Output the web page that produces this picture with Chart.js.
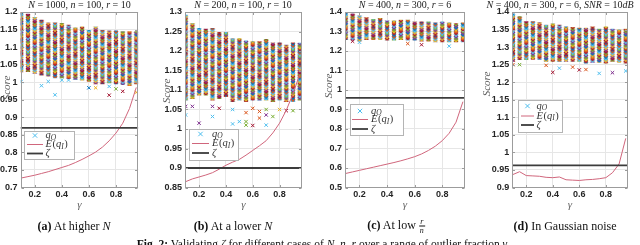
<!DOCTYPE html>
<html><head><meta charset="utf-8">
<script src="https://cdn.jsdelivr.net/npm/chart.js@4.4.1/dist/chart.umd.min.js"></script>
<style>
html,body{margin:0;padding:0;background:#fff;}
#wrap{position:relative;width:640px;height:245px;overflow:hidden;background:#fff;}
canvas{position:absolute;left:0;top:0;width:640px;height:245px;}
.t{position:absolute;white-space:nowrap;font-family:"Liberation Serif","Times New Roman",serif;color:#222;transform:translate(-50%,-50%);line-height:1;}
.ttl{font-size:10px;color:#222;}
.ylab{font-size:11px;color:#5a5a5a;transform:translate(-50%,-50%) rotate(-90deg);}
.xl{font-size:11px;color:#666;}
.cap{font-size:12px;color:#111;}
.frac{display:inline-block;vertical-align:middle;font-size:8px;text-align:center;line-height:1;}
.frac span{display:block;padding:0 1px;}
.frac span+span{border-top:0.8px solid #111;}
</style></head>
<body><div id="wrap">
<canvas id="ca" width="640" height="245"></canvas>
<canvas id="cb" width="640" height="245"></canvas>
<canvas id="cc" width="640" height="245"></canvas>
<canvas id="cd" width="640" height="245"></canvas>

<div class="t ttl" style="left:79.5px;top:5px"><i>N</i> = 1000, <i>n</i> = 100, <i>r</i> = 10</div>
<div class="t ttl" style="left:243px;top:5px"><i>N</i> = 200, <i>n</i> = 100, <i>r</i> = 10</div>
<div class="t ttl" style="left:405px;top:5px"><i>N</i> = 400, <i>n</i> = 300, <i>r</i> = 6</div>
<div class="t ttl" style="left:560px;top:5px"><i>N</i> = 400, <i>n</i> = 300, <i>r</i> = 6, <i>SNR</i> = 10<i>dB</i></div>

<div class="t ylab" style="left:5.5px;top:88px"><i>Score</i></div>
<div class="t ylab" style="left:166px;top:91px"><i>Score</i></div>
<div class="t ylab" style="left:328px;top:86px"><i>Score</i></div>
<div class="t ylab" style="left:486px;top:84px"><i>Score</i></div>

<div class="t xl" style="left:79.5px;top:204px"><i>γ</i></div>
<div class="t xl" style="left:243.5px;top:204px"><i>γ</i></div>
<div class="t xl" style="left:405px;top:204px"><i>γ</i></div>
<div class="t xl" style="left:570px;top:204px"><i>γ</i></div>

<div class="t cap" style="left:74px;top:226px"><b>(a)</b> At higher <i>N</i></div>
<div class="t cap" style="left:233px;top:226px"><b>(b)</b> At a lower <i>N</i></div>
<div class="t cap" style="left:396px;top:226px"><b>(c)</b> At low <span class="frac"><span><i>r</i></span><span><i>n</i></span></span></div>
<div class="t cap" style="left:565px;top:226px"><b>(d)</b> In Gaussian noise</div>
<div class="t cap" style="left:322px;top:244.5px;font-size:11.5px"><b>Fig. 2:</b> Validating <i>ζ</i> for different cases of <i>N</i>, <i>n</i>, <i>r</i> over a range of outlier fraction <i>γ</i></div>
</div>
<script>
// ---------------- DATA ----------------
const GAMMA = [0.10,0.15,0.20,0.25,0.30,0.35,0.40,0.45,0.50,0.55,0.60,0.65,0.70,0.75,0.80,0.85,0.90,0.95];
const X_TICKS = [0.2,0.4,0.6,0.8];
const X_MIN = 0.095, X_MAX = 0.965;

// (a) N=1000, n=100, r=10
const A_Y_TICKS = [0.7,0.75,0.8,0.85,0.9,0.95,1,1.05,1.1,1.15,1.2];
const A_BAND_TOP = [1.200,1.194,1.185,1.177,1.169,1.169,1.168,1.163,1.155,1.158,1.148,1.158,1.148,1.146,1.146,1.144,1.144,1.144];
const A_BAND_BOT = [1.029,1.030,1.025,1.020,1.017,1.012,1.012,1.010,1.008,1.006,1.002,0.995,0.995,0.998,0.995,0.993,0.990,0.995];
const A_OUT_G = [0.10,0.25,0.30,0.35,0.40,0.45,0.60,0.65,0.75,0.75,0.80,0.85,0.95];
const A_OUT_V = [1.002,0.990,1.002,0.964,1.006,1.006,0.984,0.984,0.988,0.963,0.981,0.974,0.971];
const A_EQI = [0.727,0.731,0.735,0.740,0.745,0.751,0.757,0.763,0.771,0.780,0.790,0.801,0.815,0.833,0.855,0.883,0.925,0.985];
const A_ZETA = 0.87;

// (b) N=200, n=100, r=10
const B_Y_TICKS = [0.85,0.9,0.95,1,1.05,1.1,1.15,1.2,1.25,1.3];
const B_BAND_TOP = [1.292,1.271,1.258,1.256,1.258,1.248,1.248,1.232,1.232,1.226,1.224,1.224,1.230,1.221,1.221,1.215,1.221,1.220];
const B_BAND_BOT = [1.074,1.078,1.087,1.087,1.074,1.078,1.083,1.070,1.074,1.070,1.074,1.074,1.074,1.070,1.074,1.070,1.070,1.074];
const B_OUT_G = [0.10,0.10,0.15,0.20,0.30,0.30,0.35,0.45,0.45,0.50,0.55,0.55,0.55,0.60,0.60,0.65,0.65,0.70,0.70,0.70,0.75,0.80,0.85,0.90];
const B_OUT_V = [1.036,1.058,1.058,1.015,1.032,1.058,1.053,1.050,1.013,1.019,1.042,1.019,1.010,1.009,1.053,1.045,1.028,1.036,1.010,1.050,1.032,1.050,1.047,1.047];
const B_EQI = [0.865,0.872,0.877,0.882,0.888,0.897,0.907,0.915,0.922,0.933,0.945,0.957,0.970,0.990,1.015,1.048,1.090,1.140];
const B_ZETA = 0.9;

// (c) N=400, n=300, r=6
const C_Y_TICKS = [0.5,0.6,0.7,0.8,0.9,1,1.1,1.2,1.3,1.4];
const C_BAND_TOP = [1.400,1.390,1.380,1.372,1.362,1.367,1.355,1.355,1.358,1.358,1.350,1.350,1.350,1.345,1.350,1.345,1.341,1.345];
const C_BAND_BOT = [1.258,1.255,1.251,1.258,1.258,1.258,1.255,1.255,1.258,1.255,1.255,1.251,1.251,1.246,1.246,1.246,1.246,1.246];
const C_OUT_G = [0.15,0.20,0.55,0.65,0.85];
const C_OUT_V = [1.250,1.245,1.238,1.232,1.225];
const C_EQI = [0.572,0.580,0.588,0.596,0.604,0.612,0.620,0.628,0.637,0.647,0.658,0.672,0.690,0.712,0.740,0.778,0.835,0.940];
const C_ZETA = 0.96;

// (d) N=400, n=300, r=6, SNR=10dB
const D_Y_TICKS = [0.9,0.95,1,1.05,1.1,1.15,1.2,1.25,1.3,1.35,1.4];
const D_BAND_TOP = [1.395,1.387,1.373,1.373,1.370,1.363,1.366,1.363,1.358,1.356,1.354,1.354,1.358,1.351,1.358,1.351,1.349,1.351];
const D_BAND_BOT = [1.259,1.264,1.264,1.265,1.264,1.259,1.259,1.259,1.259,1.259,1.259,1.254,1.256,1.256,1.254,1.259,1.256,1.254];
const D_OUT_G = [0.10,0.15,0.35,0.40,0.45,0.55,0.60,0.65,0.75,0.85,0.95];
const D_OUT_V = [1.250,1.250,1.248,1.228,1.240,1.243,1.235,1.236,1.225,1.227,1.232];
const D_EQI = [0.937,0.945,0.934,0.933,0.932,0.929,0.928,0.930,0.922,0.921,0.920,0.922,0.923,0.925,0.928,0.942,0.967,1.040];
const D_ZETA = 0.963;

// ---------------- STYLE ----------------
const PAL = {b:'#0072BD',o:'#D95319',y:'#EDB120',p:'#7E2F8E',g:'#77AC30',l:'#4DBEEE',r:'#A2142F'};
const A_OUT_COL = ['l','l','l','l','l','l','b','y','l','r','g','r','y'];
const B_OUT_COL = ['l','p','p','p','l','p','r','l','l','l','o','g','g','r','o','o','o','p','l','g','g','y','r','g'];
const C_OUT_COL = ['r','l','o','r','l'];
const D_OUT_COL = ['o','g','o','r','l','o','r','o','l','p','l'];
const EQI_COLOR = '#d0667c';
const ZETA_COLOR = '#3c3c3c';
const TICK_FONT = {family:'"Liberation Sans", Arial, sans-serif', size:9, weight:'bold'};

let tileCanvas = null;
function getTile(){
  if (tileCanvas) return tileCanvas;
  const seq = 'bolyprgoblyrgpbyorlpgyrbolgpyr'.split('');
  const step = 1.8;
  const t = document.createElement('canvas');
  t.width = 6; t.height = Math.round(step * seq.length);
  const c = t.getContext('2d');
  c.lineWidth = 1.1;
  for (let k = 0; k < seq.length; k++){
    const y = k * step;
    c.strokeStyle = PAL[seq[k]];
    for (const dy of [-t.height, 0, t.height]){
      c.beginPath();
      c.moveTo(1, y+dy-2); c.lineTo(5, y+dy+2);
      c.moveTo(1, y+dy+2); c.lineTo(5, y+dy-2);
      c.stroke();
    }
  }
  tileCanvas = t;
  return t;
}
function bandFill(ctx){
  if (ctx.type !== 'data' || !ctx.chart.scales.x) return '#888';
  const cx = ctx.chart.scales.x.getPixelForValue(ctx.raw.x);
  const p = ctx.chart.ctx.createPattern(getTile(), 'repeat');
  p.setTransform(new DOMMatrix([1,0,0,1,cx-3,ctx.dataIndex*7]));
  return p;
}

const framePlugin = {
  id:'frame',
  afterDatasetsDraw(chart){
    const {ctx, chartArea:a, scales} = chart;
    ctx.save();
    ctx.strokeStyle = '#9c9c9c'; ctx.lineWidth = 1;
    const L = Math.round(a.left)+0.5, R = Math.round(a.right)-0.5, T = Math.round(a.top)+0.5, B = Math.round(a.bottom)-0.5;
    ctx.strokeRect(L, T, R-L, B-T);
    ctx.beginPath();
    scales.x.ticks.forEach(t => { const px = Math.round(scales.x.getPixelForValue(t.value))+0.5;
      ctx.moveTo(px,B); ctx.lineTo(px,B-2.5); ctx.moveTo(px,T); ctx.lineTo(px,T+2.5); });
    scales.y.ticks.forEach(t => { const py = Math.round(scales.y.getPixelForValue(t.value))+0.5;
      ctx.moveTo(L,py); ctx.lineTo(L+2.5,py); ctx.moveTo(R,py); ctx.lineTo(R-2.5,py); });
    ctx.stroke();
    ctx.restore();
  }
};

function mathText(c, parts, x, y){
  for (const p of parts){
    c.font = (p.it ? 'italic ' : '') + (p.sub ? '7.5px' : '10.5px') + ' "Liberation Serif", serif';
    c.fillText(p.t, x, y + (p.sub ? 2.5 : 0));
    x += c.measureText(p.t).width + (p.sp || 0);
  }
}
const legendPlugin = {
  id:'inLegend',
  afterDatasetsDraw(chart, args, o){
    const c = chart.ctx;
    c.save();
    c.fillStyle = '#fff'; c.fillRect(o.x, o.y, o.w, o.h);
    c.strokeStyle = '#b4b4b4'; c.lineWidth = 1;
    c.strokeRect(Math.round(o.x)+0.5, Math.round(o.y)+0.5, o.w, o.h);
    const mid = (o.s0 + o.s1)/2;
    c.strokeStyle = PAL.l; c.lineWidth = 1;
    c.beginPath();
    c.moveTo(mid-2.2, o.r[0]-2.2); c.lineTo(mid+2.2, o.r[0]+2.2);
    c.moveTo(mid-2.2, o.r[0]+2.2); c.lineTo(mid+2.2, o.r[0]-2.2);
    c.stroke();
    c.strokeStyle = EQI_COLOR; c.lineWidth = 1;
    c.beginPath(); c.moveTo(o.s0, o.r[1]); c.lineTo(o.s1, o.r[1]); c.stroke();
    c.strokeStyle = ZETA_COLOR; c.lineWidth = 1.8;
    c.beginPath(); c.moveTo(o.s0, o.r[2]); c.lineTo(o.s1, o.r[2]); c.stroke();
    c.fillStyle = '#333'; c.textBaseline = 'middle';
    mathText(c, [{t:'q',it:true},{t:'O',it:true,sub:true}], o.tx, o.r[0]);
    mathText(c, [{t:'E',it:true,sp:0.5},{t:'('},{t:'q',it:true},{t:'I',it:true,sub:true,sp:0.5},{t:')'}], o.tx, o.r[1]);
    mathText(c, [{t:'ζ',it:true}], o.tx, o.r[2]);
    c.restore();
  }
};

function fmt(v){ return String(Math.round(v*100)/100); }

function makeChart(id, P){
  const band = GAMMA.map((g,i) => ({x:g, y:[P.bot[i], P.top[i]]}));
  const outs = P.og.map((g,i) => ({x:g, y:P.ov[i]}));
  const eqi = GAMMA.map((g,i) => ({x:g, y:P.eqi[i]}));
  const zeta = [{x:X_MIN, y:P.zeta}, {x:X_MAX, y:P.zeta}];
  return new Chart(document.getElementById(id), {
    type:'scatter',
    data:{datasets:[
      {type:'line', data:zeta, borderColor:ZETA_COLOR, borderWidth:1.8, pointRadius:0, order:0},
      {type:'line', data:eqi, borderColor:EQI_COLOR, borderWidth:1, pointRadius:0, tension:0, order:0},
      {type:'scatter', data:outs, pointStyle:'crossRot', pointRadius:2.4, pointBorderWidth:1,
        pointBorderColor:P.oc.map(k => PAL[k]), pointBackgroundColor:'transparent', order:1},
      {type:'bar', data:band, backgroundColor:bandFill, borderWidth:0, barThickness:5, grouped:false, order:2}
    ]},
    options:{
      responsive:false, animation:false, devicePixelRatio:1,
      layout:{padding:{left:0, right:640-P.right, top:12, bottom:245-187.5-20}},
      plugins:{legend:{display:false}, tooltip:{enabled:false}, inLegend:P.leg},
      scales:{
        x:{type:'linear', min:X_MIN, max:X_MAX, offset:false,
          afterBuildTicks:s => { s.ticks = X_TICKS.map(v => ({value:v})); },
          afterFit:s => { s.height = 20; },
          grid:{color:'#e6e6e6', drawTicks:false, offset:false}, border:{display:false},
          ticks:{padding:2, font:TICK_FONT, color:'#262626', maxRotation:0, callback:fmt}},
        y:{type:'linear', min:P.yt[0], max:P.yt[P.yt.length-1], beginAtZero:false,
          afterBuildTicks:s => { s.ticks = P.yt.map(v => ({value:v})); },
          afterFit:s => { s.width = P.left; },
          grid:{color:'#e6e6e6', drawTicks:false}, border:{display:false},
          ticks:{padding:3, font:TICK_FONT, color:'#262626', callback:fmt}}
      }
    },
    plugins:[framePlugin, legendPlugin]
  });
}

makeChart('ca', {left:20.5, right:138.3, top:A_BAND_TOP, bot:A_BAND_BOT, og:A_OUT_G, ov:A_OUT_V, oc:A_OUT_COL,
  eqi:A_EQI, zeta:A_ZETA, yt:A_Y_TICKS,
  leg:{x:24, y:131, w:50, h:28, r:[135.5,144.5,153.5], s0:27, s1:43, tx:45.5}});
makeChart('cb', {left:185, right:301.7, top:B_BAND_TOP, bot:B_BAND_BOT, og:B_OUT_G, ov:B_OUT_V, oc:B_OUT_COL,
  eqi:B_EQI, zeta:B_ZETA, yt:B_Y_TICKS,
  leg:{x:189, y:129, w:49, h:31, r:[134,143.5,153], s0:192, s1:209, tx:212}});
makeChart('cc', {left:345, right:465, top:C_BAND_TOP, bot:C_BAND_BOT, og:C_OUT_G, ov:C_OUT_V, oc:C_OUT_COL,
  eqi:C_EQI, zeta:C_ZETA, yt:C_Y_TICKS,
  leg:{x:350, y:104, w:53, h:31, r:[111,119.5,129], s0:352, s1:368, tx:371}});
makeChart('cd', {left:512.3, right:627.7, top:D_BAND_TOP, bot:D_BAND_BOT, og:D_OUT_G, ov:D_OUT_V, oc:D_OUT_COL,
  eqi:D_EQI, zeta:D_ZETA, yt:D_Y_TICKS,
  leg:{x:518, y:100, w:44, h:32, r:[106,116,125], s0:521, s1:534, tx:536.5}});
</script>
</body></html>
